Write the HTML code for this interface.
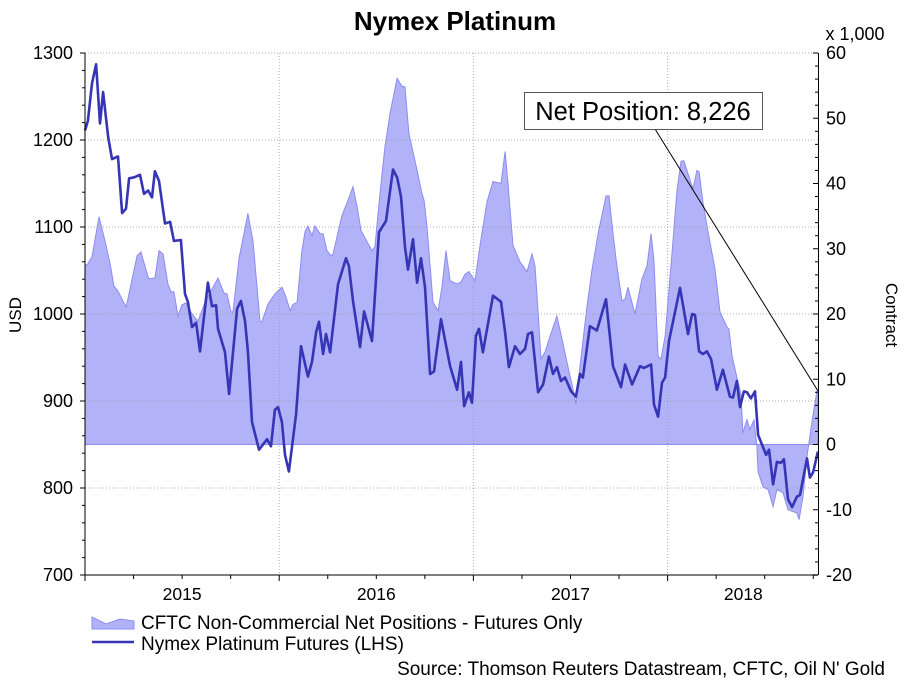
<!DOCTYPE html>
<html><head><meta charset="utf-8"><style>
html,body{margin:0;padding:0;background:#fff;}
svg{display:block;font-family:"Liberation Sans",Arial,sans-serif;}
</style></head><body>
<svg id="chart" width="909" height="682" viewBox="0 0 909 682">
<text x="455" y="30" text-anchor="middle" font-size="26" font-weight="bold">Nymex Platinum</text>
<text x="855" y="40" text-anchor="middle" font-size="18">x 1,000</text>
<text transform="translate(21,315) rotate(-90)" text-anchor="middle" font-size="17">USD</text>
<text transform="translate(886,315) rotate(90)" text-anchor="middle" font-size="17">Contract</text>
<g id="gArea"></g><g id="gGrid"></g><g id="gLine"></g><g id="gAxes"></g>
<g>
<line x1="655" y1="129" x2="818" y2="391" stroke="#000" stroke-width="1"/>
<rect x="524.5" y="92.5" width="238" height="37" fill="#fff" stroke="#555" stroke-width="1"/>
<text x="643" y="120" text-anchor="middle" font-size="25.5">Net Position: 8,226</text>
</g>
<g>
<path d="M92,617 L106,624 L120,619 L134,621 L134,629 L92,629Z" fill="#b2b2f8" stroke="#8c8cf0" stroke-width="1"/>
<text x="141" y="629" font-size="19">CFTC Non-Commercial Net Positions - Futures Only</text>
<line x1="92" y1="642" x2="134" y2="642" stroke="#3535b5" stroke-width="2.5"/>
<text x="141" y="650" font-size="19">Nymex Platinum Futures (LHS)</text>
</g>
<text x="885" y="675" text-anchor="end" font-size="19">Source: Thomson Reuters Datastream, CFTC, Oil N' Gold</text>
</svg>
<script>
// years since Jan 2015
const priceDates=[0,0.015,0.036,0.057,0.077,0.093,0.119,0.139,0.170,0.191,0.211,0.227,0.252,0.283,0.304,0.325,0.345,0.360,0.381,0.412,0.438,0.458,0.494,0.515,0.530,0.551,0.572,0.592,0.633,0.654,0.675,0.685,0.721,0.742,0.783,0.803,0.824,0.839,0.860,0.896,0.937,0.958,0.978,0.994,1.014,1.030,1.050,1.087,1.112,1.148,1.169,1.190,1.205,1.226,1.241,1.262,1.303,1.344,1.359,1.380,1.416,1.437,1.478,1.514,1.550,1.586,1.607,1.627,1.648,1.663,1.689,1.710,1.730,1.751,1.777,1.797,1.833,1.880,1.916,1.936,1.952,1.977,1.993,2.013,2.029,2.049,2.101,2.142,2.163,2.183,2.214,2.240,2.266,2.281,2.302,2.333,2.359,2.389,2.410,2.430,2.451,2.472,2.503,2.528,2.549,2.564,2.600,2.636,2.683,2.719,2.760,2.781,2.817,2.858,2.878,2.915,2.930,2.951,2.971,2.987,3.007,3.064,3.105,3.126,3.141,3.162,3.182,3.203,3.224,3.254,3.285,3.321,3.337,3.357,3.373,3.393,3.409,3.429,3.450,3.466,3.507,3.522,3.543,3.563,3.584,3.599,3.620,3.641,3.666,3.682,3.718,3.733,3.749,3.774];
const priceValues=[1211,1222,1265,1287,1219,1255,1204,1178,1181,1116,1121,1156,1157,1160,1138,1142,1134,1164,1153,1104,1106,1084,1085,1023,1014,985,990,957,1036,1009,1010,983,956,908,1006,1015,992,957,876,844,856,848,890,893,876,838,819,885,963,928,945,979,991,954,977,956,1034,1064,1055,1015,962,1003,969,1094,1107,1166,1157,1135,1077,1051,1086,1036,1064,1031,931,934,994,940,913,945,894,910,898,975,983,956,1021,1014,979,939,963,954,960,977,979,910,919,951,931,939,923,927,911,905,931,927,986,981,1017,940,916,942,919,940,938,942,896,882,921,927,969,1030,977,1000,999,957,954,957,948,913,936,905,904,923,893,911,910,903,911,861,838,844,804,830,829,833,787,778,790,792,834,812,818,842];
const netDates=[0,0.015,0.036,0.072,0.103,0.129,0.149,0.170,0.211,0.221,0.268,0.288,0.324,0.330,0.360,0.381,0.402,0.427,0.443,0.458,0.479,0.499,0.520,0.551,0.582,0.618,0.654,0.685,0.716,0.731,0.752,0.762,0.793,0.839,0.865,0.901,0.911,0.942,0.978,1.014,1.035,1.056,1.071,1.092,1.117,1.133,1.148,1.169,1.184,1.210,1.226,1.246,1.267,1.277,1.323,1.354,1.380,1.401,1.421,1.452,1.478,1.493,1.504,1.519,1.545,1.571,1.607,1.632,1.648,1.668,1.710,1.735,1.746,1.761,1.792,1.818,1.838,1.859,1.880,1.916,1.936,1.957,1.977,2.008,2.034,2.070,2.101,2.142,2.163,2.178,2.204,2.240,2.276,2.302,2.317,2.333,2.348,2.369,2.394,2.430,2.456,2.482,2.513,2.528,2.538,2.585,2.611,2.642,2.683,2.698,2.719,2.739,2.765,2.781,2.796,2.832,2.868,2.894,2.915,2.930,2.951,2.966,2.987,3.023,3.048,3.069,3.084,3.105,3.131,3.151,3.162,3.182,3.208,3.244,3.270,3.306,3.316,3.332,3.357,3.378,3.388,3.409,3.424,3.445,3.460,3.466,3.491,3.517,3.543,3.563,3.594,3.620,3.666,3.677,3.697,3.718,3.743,3.769,3.774];
const netValues=[27.4,27.7,28.8,34.9,31.2,27.7,24.3,23.5,21.1,22.3,28.9,29.5,25.8,25.4,25.5,29.7,29.2,24.6,23.4,23.4,19.7,21.4,21.7,20.0,18.9,21.8,23.8,25.5,23.2,23.1,20.3,20.3,28.5,35.4,31.2,18.9,18.8,21.5,23.1,24.1,22.6,20.5,21.5,21.8,29.7,32.6,33.5,32.0,33.5,32.3,32.3,29.7,28.9,29.2,35.1,37.4,39.5,36.5,32.8,31.1,29.7,30.3,33.8,38.5,45.7,50.8,56.1,54.9,54.8,47.7,42.0,38.5,37.4,33.4,21.8,20.5,24.1,29.7,25.1,24.6,24.9,26.1,26.5,25.1,30.5,37.2,40.3,40.0,44.9,40.0,30.5,28.0,26.5,29.2,27.4,20.3,13.1,14.2,16.5,19.7,16.2,12.6,8.5,6.2,9.2,21.2,26.9,32.3,38.1,38.1,32.3,27.4,22.0,22.3,24.1,20.0,25.4,27.4,32.3,28.1,13.5,13.1,16.6,29.5,38.8,43.4,43.5,41.5,39.2,42.0,41.8,37.2,32.6,26.9,20.3,18.0,17.7,13.5,10.3,7.7,1.8,3.8,2.3,3.8,-0.3,-4.2,-6.5,-6.9,-9.5,-6.9,-7.4,-10.0,-10.5,-11.5,-8.0,-1.8,3.4,8.2,8.226];
const leftTicks=[700,800,900,1000,1100,1200,1300];
const rightTicks=[-20,-10,0,10,20,30,40,50,60];
const yearLabels=["2015","2016","2017","2018"];
const yearLabelPos=[0.5,1.5,2.5,3.39];

const X0=85,X1=818,Y0=575,Y1=53,PXY=194.2;
const xs=t=>X0+t*PXY;
const yL=v=>Y0-(v-700)/600*(Y0-Y1);
const yR=v=>Y0-(v+20)/80*(Y0-Y1);
const NS="http://www.w3.org/2000/svg";
function mk(tag,parent,attrs){const e=document.createElementNS(NS,tag);for(const k in attrs)e.setAttribute(k,attrs[k]);parent.appendChild(e);return e;}
const gArea=document.getElementById('gArea'),gGrid=document.getElementById('gGrid'),gLine=document.getElementById('gLine'),gAxes=document.getElementById('gAxes');

let d="M"+xs(netDates[0])+","+yR(0);
netDates.forEach((t,i)=>{d+=" L"+xs(t).toFixed(1)+","+yR(netValues[i]).toFixed(1);});
d+=" L"+xs(netDates[netDates.length-1]).toFixed(1)+","+yR(0)+"Z";
const area=mk('path',gArea,{d:d,fill:'#b2b2f8',stroke:'#8c8cf0','stroke-width':1});



leftTicks.forEach(v=>{if(v===700)return;const l=mk('line',gGrid,{x1:X0,x2:X1,y1:yL(v),y2:yL(v),stroke:'#999','stroke-width':1,'stroke-dasharray':'1,2',opacity:0.8});

});
[1,2,3].forEach(t=>{const l=mk('line',gGrid,{x1:xs(t),x2:xs(t),y1:Y1,y2:Y0,stroke:'#999','stroke-width':1,'stroke-dasharray':'1,2',opacity:0.8});

});

const pl=mk('polyline',gLine,{points:priceDates.map((t,i)=>xs(t).toFixed(1)+","+yL(priceValues[i]).toFixed(1)).join(" "),fill:'none',stroke:'#3535b5','stroke-width':2.6,'stroke-linejoin':'round'});



mk('line',gAxes,{x1:X0,x2:X0,y1:Y1,y2:Y0,stroke:'#000','stroke-width':1});
mk('line',gAxes,{x1:X1+0.5,x2:X1+0.5,y1:Y1,y2:Y0,stroke:'#000','stroke-width':1});
mk('line',gAxes,{x1:X0,x2:X1,y1:Y0,y2:Y0,stroke:'#555','stroke-width':1.5});
for(let v=700;v<=1300;v+=20){mk('line',gAxes,{x1:X0-(v%100===0?5:3),x2:X0,y1:yL(v),y2:yL(v),stroke:'#000','stroke-width':1});}
for(let v=-20;v<=60;v+=2){mk('line',gAxes,{x1:X1-(v%10===0?5:3),x2:X1,y1:yR(v),y2:yR(v),stroke:'#000','stroke-width':1});}
for(let q=0;q<=15;q++){const x=xs(q*0.25);if(x>X1)break;mk('line',gAxes,{x1:x,x2:x,y1:Y0,y2:Y0+(q%4===0?6:4),stroke:'#000','stroke-width':1});}
leftTicks.forEach(v=>{const t=mk('text',gAxes,{x:73,y:yL(v)+6,'text-anchor':'end','font-size':18});t.textContent=v;

});
rightTicks.forEach(v=>{const t=mk('text',gAxes,{x:826,y:yR(v)+6,'font-size':18});t.textContent=v;

});
yearLabels.forEach((s,i)=>{const t=mk('text',gAxes,{x:xs(yearLabelPos[i]),y:600,'text-anchor':'middle','font-size':17.5});t.textContent=s;

});
</script>
</body></html>
